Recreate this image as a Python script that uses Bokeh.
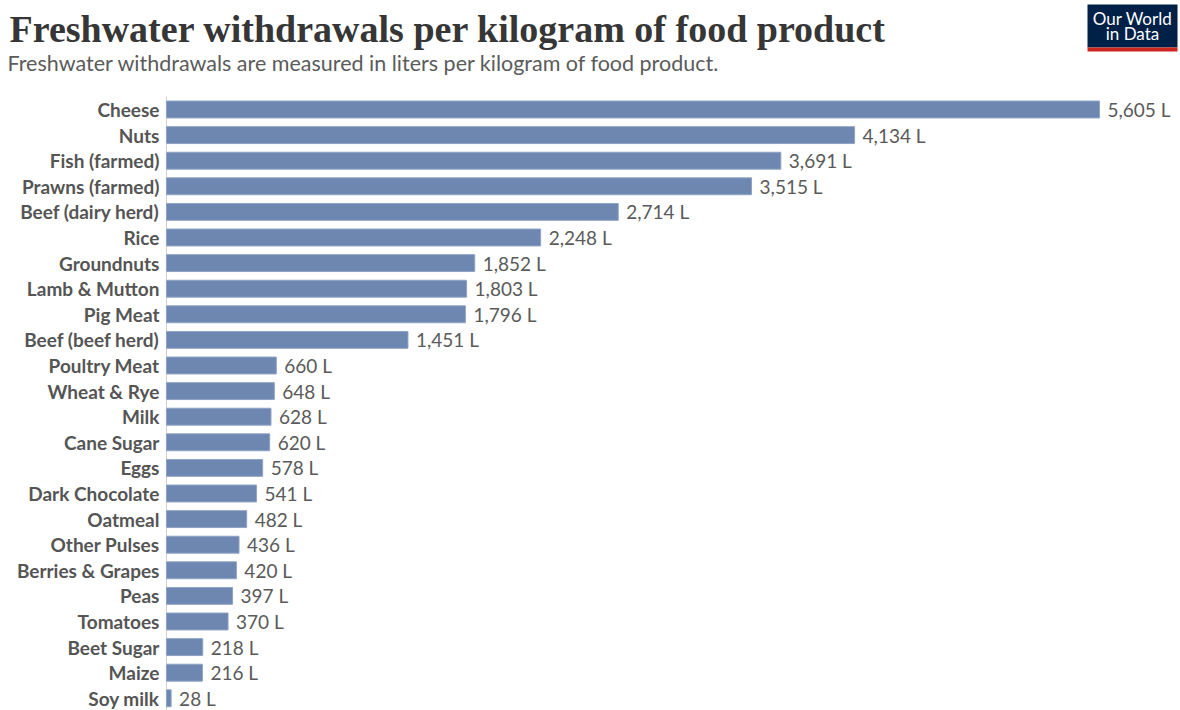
from bokeh.plotting import figure
from bokeh.models import Range1d, Label, BoxAnnotation, ColumnDataSource
from bokeh.core.properties import value
from bokeh.embed import file_html
from bokeh.resources import INLINE

categories = ["Cheese", "Nuts", "Fish (farmed)", "Prawns (farmed)", "Beef (dairy herd)",
              "Rice", "Groundnuts", "Lamb & Mutton", "Pig Meat", "Beef (beef herd)",
              "Poultry Meat", "Wheat & Rye", "Milk", "Cane Sugar", "Eggs",
              "Dark Chocolate", "Oatmeal", "Other Pulses", "Berries & Grapes", "Peas",
              "Tomatoes", "Beet Sugar", "Maize", "Soy milk"]
values = [5605, 4134, 3691, 3515, 2714, 2248, 1852, 1803, 1796, 1451,
          660, 648, 628, 620, 578, 541, 482, 436, 420, 397,
          370, 218, 216, 28]
unit = "L"

title_text = "Freshwater withdrawals per kilogram of food product"
subtitle_text = "Freshwater withdrawals are measured in liters per kilogram of food product."

W, H = 1180, 710
rows = list(range(len(categories)))
src = ColumnDataSource(dict(
    y=rows, v=values, cat=categories,
    lab=[f"{v:,} {unit}" for v in values],
))

p = figure(width=W, height=H, output_backend="svg", toolbar_location=None,
           x_range=Range1d(-997, 6092), y_range=Range1d(23.477, -4.258),
           min_border=0, outline_line_color=None)
p.axis.visible = False
p.grid.visible = False
p.background_fill_color = "white"
p.border_fill_color = "white"

# axis line
p.segment(x0=0, y0=-0.5, x1=0, y1=23.6, line_color="#cfcfcf", line_width=1)

p.hbar(y="y", left=0, right="v", height=0.66, source=src,
       fill_color="#6d87b1", line_color="#8fa3c5", line_width=1)

p.text(x="v", y="y", text="lab", source=src, x_offset=8,
       text_align="left", text_baseline="middle",
       text_font=value("Lato"), text_font_size="19px", text_color="#5a5a5a")
p.text(x=0, y="y", text="cat", source=src, x_offset=-7,
       text_align="right", text_baseline="middle",
       text_font=value("Lato"), text_font_style="bold", text_font_size="19px",
       text_color="#555555")

p.add_layout(Label(x=9, y=H - 28, x_units="screen", y_units="screen", text=title_text,
                   text_font="Liberation Serif", text_font_style="bold",
                   text_font_size="38px", text_color="#363636",
                   text_baseline="alphabetic"))
p.add_layout(Label(x=7, y=H - 62, x_units="screen", y_units="screen", text=subtitle_text,
                   text_font="Lato", text_font_size="21.5px", text_color="#5b5b5b",
                   text_baseline="alphabetic"))

# logo
p.add_layout(BoxAnnotation(left=1087, right=1177, top=H - 4, bottom=H - 47,
                           left_units="screen", right_units="screen",
                           top_units="screen", bottom_units="screen",
                           fill_color="#002147", fill_alpha=1, line_color=None))
p.add_layout(BoxAnnotation(left=1087, right=1177, top=H - 47, bottom=H - 51,
                           left_units="screen", right_units="screen",
                           top_units="screen", bottom_units="screen",
                           fill_color="#ce261e", fill_alpha=1, line_color=None))
p.add_layout(Label(x=1132, y=H - 18, x_units="screen", y_units="screen", text="Our World",
                   text_font="Lato", text_font_size="17px", text_color="white",
                   text_align="center", text_baseline="alphabetic"))
p.add_layout(Label(x=1132, y=H - 33, x_units="screen", y_units="screen", text="in Data",
                   text_font="Lato", text_font_size="17px", text_color="white",
                   text_align="center", text_baseline="alphabetic"))

open("out.html", "w").write(file_html(p, INLINE))
